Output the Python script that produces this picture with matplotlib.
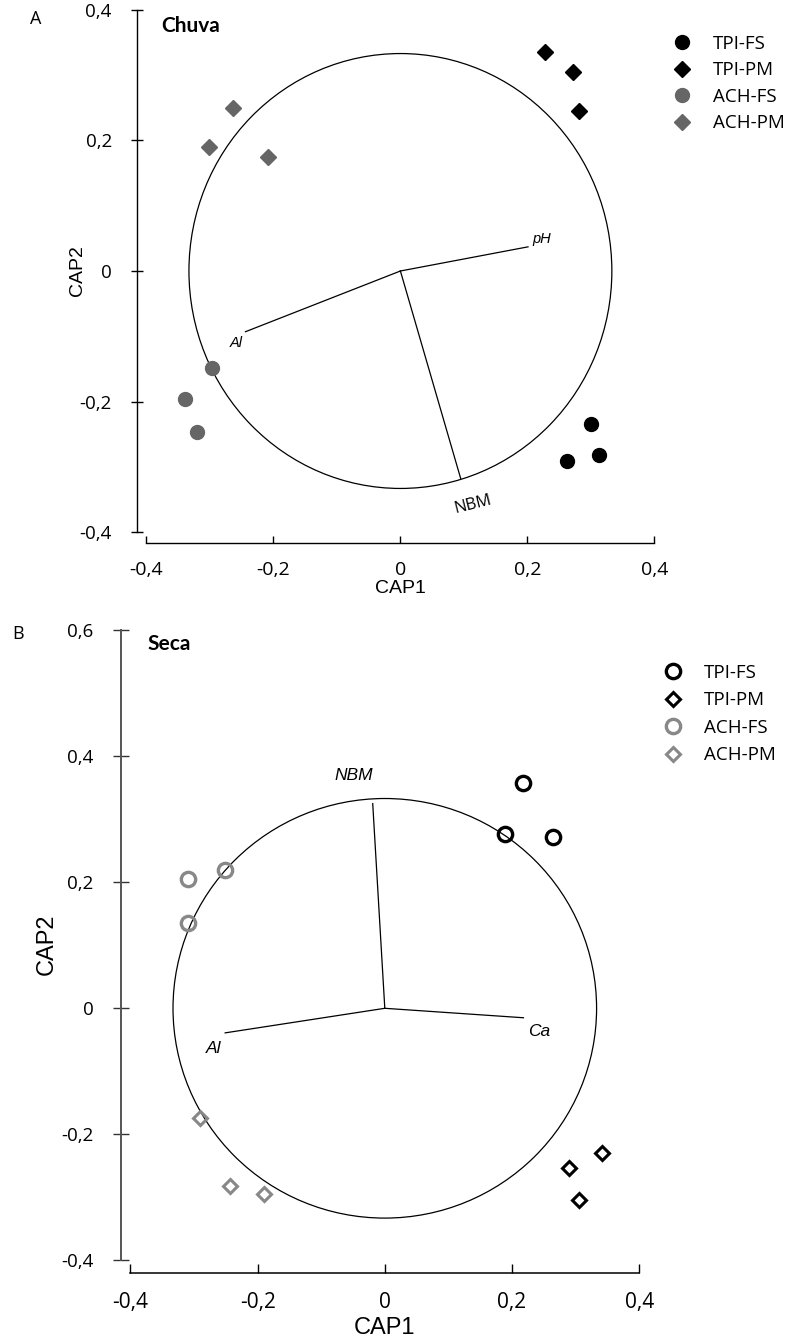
import matplotlib
matplotlib.use("Agg")
import matplotlib.pyplot as plt
from matplotlib.patches import Circle

W, H = 792, 1341

groups = ["TPI-FS", "TPI-PM", "ACH-FS", "ACH-PM"]

# panel A - Chuva
chuva_tpi_fs_x = [0.300, 0.313, 0.262]
chuva_tpi_fs_y = [-0.235, -0.282, -0.291]
chuva_tpi_pm_x = [0.227, 0.272, 0.281]
chuva_tpi_pm_y = [0.336, 0.304, 0.245]
chuva_ach_fs_x = [-0.297, -0.339, -0.321]
chuva_ach_fs_y = [-0.149, -0.196, -0.246]
chuva_ach_pm_x = [-0.263, -0.301, -0.209]
chuva_ach_pm_y = [0.249, 0.190, 0.175]
chuva_vec_names = ["pH", "Al", "NBM"]
chuva_vec_x = [0.201, -0.244, 0.095]
chuva_vec_y = [0.037, -0.093, -0.318]

# panel B - Seca
seca_tpi_fs_x = [0.218, 0.189, 0.265]
seca_tpi_fs_y = [0.357, 0.276, 0.272]
seca_tpi_pm_x = [0.341, 0.289, 0.306]
seca_tpi_pm_y = [-0.229, -0.254, -0.305]
seca_ach_fs_x = [-0.310, -0.251, -0.310]
seca_ach_fs_y = [0.205, 0.219, 0.135]
seca_ach_pm_x = [-0.290, -0.244, -0.190]
seca_ach_pm_y = [-0.174, -0.282, -0.295]
seca_vec_names = ["NBM", "Al", "Ca"]
seca_vec_x = [-0.019, -0.251, 0.218]
seca_vec_y = [0.325, -0.039, -0.015]

circle_r = 0.333

x_ticks = [-0.4, -0.2, 0, 0.2, 0.4]
x_ticklabels = ["-0,4", "-0,2", "0", "0,2", "0,4"]
chuva_y_ticks = [-0.4, -0.2, 0, 0.2, 0.4]
chuva_y_ticklabels = ["-0,4", "-0,2", "0", "0,2", "0,4"]
seca_y_ticks = [-0.4, -0.2, 0, 0.2, 0.4, 0.6]
seca_y_ticklabels = ["-0,4", "-0,2", "0", "0,2", "0,4", "0,6"]

TICKFONT = "Open Sans"
ARIAL = "Liberation Sans"


def place(ax, x0, xs, y0, ys, xlim, ylim):
    # x0,y0 = pixel of data origin, xs,ys = pixels per data unit
    left = x0 + xlim[0] * xs
    right = x0 + xlim[1] * xs
    top = y0 - ylim[1] * ys
    bottom = y0 - ylim[0] * ys
    ax.set_position([left / W, 1 - bottom / H, (right - left) / W, (bottom - top) / H])
    ax.set_xlim(xlim)
    ax.set_ylim(ylim)


fig = plt.figure(figsize=(W / 100, H / 100), dpi=100)
axA = fig.add_axes([0, 0, 1, 1])
axB = fig.add_axes([0, 0, 1, 1])
place(axA, 400.4, 635, 271, 653, (-0.45, 0.45), (-0.43, 0.41))
place(axB, 384.8, 636, 1008.3, 630, (-0.45, 0.45), (-0.44, 0.62))

for ax in (axA, axB):
    ax.patch.set_alpha(0)
    ax.spines["top"].set_visible(False)
    ax.spines["right"].set_visible(False)
    ax.add_patch(Circle((0, 0), circle_r, fill=False, lw=0.9, color="black"))

# ---- panel A
axA.spines["left"].set_position(("data", -0.415))
axA.spines["left"].set_bounds(-0.4, 0.4)
axA.spines["bottom"].set_position(("data", -0.417))
axA.spines["bottom"].set_bounds(-0.4, 0.4)
axA.spines["left"].set_linewidth(1.0)
axA.spines["bottom"].set_linewidth(1.0)
axA.set_xticks(x_ticks, x_ticklabels, fontfamily=TICKFONT, fontsize=14)
axA.set_yticks(chuva_y_ticks, chuva_y_ticklabels, fontfamily=TICKFONT, fontsize=13.5)
axA.tick_params(axis="y", direction="inout", length=9, width=1, pad=13.5)
axA.tick_params(axis="x", direction="in", length=5, width=1, pad=12.5)

grey_a = "#666666"
axA.plot(chuva_tpi_fs_x, chuva_tpi_fs_y, "o", ms=10, color="black", label=groups[0], clip_on=False)
axA.plot(chuva_tpi_pm_x, chuva_tpi_pm_y, "D", ms=8, color="black", label=groups[1], clip_on=False)
axA.plot(chuva_ach_fs_x, chuva_ach_fs_y, "o", ms=10, color=grey_a, label=groups[2], clip_on=False)
axA.plot(chuva_ach_pm_x, chuva_ach_pm_y, "D", ms=8, color=grey_a, label=groups[3], clip_on=False)

for x, y in zip(chuva_vec_x, chuva_vec_y):
    axA.plot([0, x], [0, y], color="black", lw=0.9)
offsA = [(10, 5.5), (-7, -8), (8.6, -18.7)]
for name, x, y, off in zip(chuva_vec_names, chuva_vec_x, chuva_vec_y, offsA):
    if name == "NBM":
        axA.annotate(name, (x, y), xytext=off, textcoords="offset points", ha="center",
                     va="center", fontfamily=TICKFONT, fontsize=12, rotation=14)
    else:
        axA.annotate(name, (x, y), xytext=off, textcoords="offset points", ha="center",
                     va="center", fontfamily=ARIAL, fontsize=10.5, fontstyle="italic")

axA.set_xlabel("CAP1", fontfamily=ARIAL, fontsize=14)
axA.xaxis.set_label_coords(0, -0.473, transform=axA.transData)
axA.set_ylabel("CAP2", fontfamily=ARIAL, fontsize=14)
axA.yaxis.set_label_coords(-0.495, 0, transform=axA.transData)

axA.legend(loc="upper left", bbox_to_anchor=(672.6 / W, 1 - 35 / H), bbox_transform=fig.transFigure,
           frameon=False, prop={"family": TICKFONT, "size": 13.5}, numpoints=1,
           handlelength=1.0, handletextpad=1.15, labelspacing=0.45, borderpad=0, borderaxespad=0)

fig.text(36 / W, 1 - 18.5 / H, "A", fontfamily=TICKFONT, fontsize=13, ha="center", va="center")
fig.text(161 / W, 1 - 26 / H, "Chuva", fontfamily="Lato", fontweight="bold", fontsize=15,
         ha="left", va="center")

# ---- panel B
axB.spines["left"].set_position(("data", -0.415))
axB.spines["left"].set_bounds(-0.4, 0.6)
axB.spines["bottom"].set_position(("data", -0.42))
axB.spines["bottom"].set_bounds(-0.4, 0.4)
axB.spines["left"].set_linewidth(1.4)
axB.spines["left"].set_color("#555555")
axB.spines["bottom"].set_linewidth(1.1)
axB.set_xticks(x_ticks, x_ticklabels, fontfamily=TICKFONT, fontsize=15)
axB.set_yticks(seca_y_ticks, seca_y_ticklabels, fontfamily=TICKFONT, fontsize=13.5)
axB.tick_params(axis="y", direction="inout", length=11.5, width=1, color="#333333", pad=14)
axB.tick_params(axis="x", direction="in", length=6.5, width=1, pad=13.7)

grey_b = "#888888"
axB.plot(seca_tpi_fs_x, seca_tpi_fs_y, "o", ms=10.3, mfc="none", mec="black", mew=2.4,
         label=groups[0], clip_on=False)
axB.plot(seca_tpi_pm_x, seca_tpi_pm_y, "D", ms=7, mfc="none", mec="black", mew=2.2,
         label=groups[1], clip_on=False)
axB.plot(seca_ach_fs_x, seca_ach_fs_y, "o", ms=10.3, mfc="none", mec=grey_b, mew=2.4,
         label=groups[2], clip_on=False)
axB.plot(seca_ach_pm_x, seca_ach_pm_y, "D", ms=7, mfc="none", mec=grey_b, mew=2.2,
         label=groups[3], clip_on=False)

for x, y in zip(seca_vec_x, seca_vec_y):
    axB.plot([0, x], [0, y], color="black", lw=0.9)
offsB = [(-13.5, 20.4), (-8.6, -11), (11.2, -10)]
for name, x, y, off in zip(seca_vec_names, seca_vec_x, seca_vec_y, offsB):
    axB.annotate(name, (x, y), xytext=off, textcoords="offset points", ha="center",
                 va="center", fontfamily=ARIAL, fontsize=12.5, fontstyle="italic")

axB.set_xlabel("CAP1", fontfamily=ARIAL, fontsize=17)
axB.xaxis.set_label_coords(0, -0.49, transform=axB.transData)
axB.set_ylabel("CAP2", fontfamily=ARIAL, fontsize=17)
axB.yaxis.set_label_coords(-0.514, 0.102, transform=axB.transData)

axB.legend(loc="upper left", bbox_to_anchor=(663.6 / W, 1 - 664 / H), bbox_transform=fig.transFigure,
           frameon=False, prop={"family": TICKFONT, "size": 13.5}, numpoints=1,
           handlelength=1.0, handletextpad=1.15, labelspacing=0.5, borderpad=0, borderaxespad=0)

fig.text(18.5 / W, 1 - 634 / H, "B", fontfamily=TICKFONT, fontsize=13, ha="center", va="center")
fig.text(147 / W, 1 - 644 / H, "Seca", fontfamily="Lato", fontweight="bold", fontsize=15,
         ha="left", va="center")

fig.savefig("out.png", dpi=100)
